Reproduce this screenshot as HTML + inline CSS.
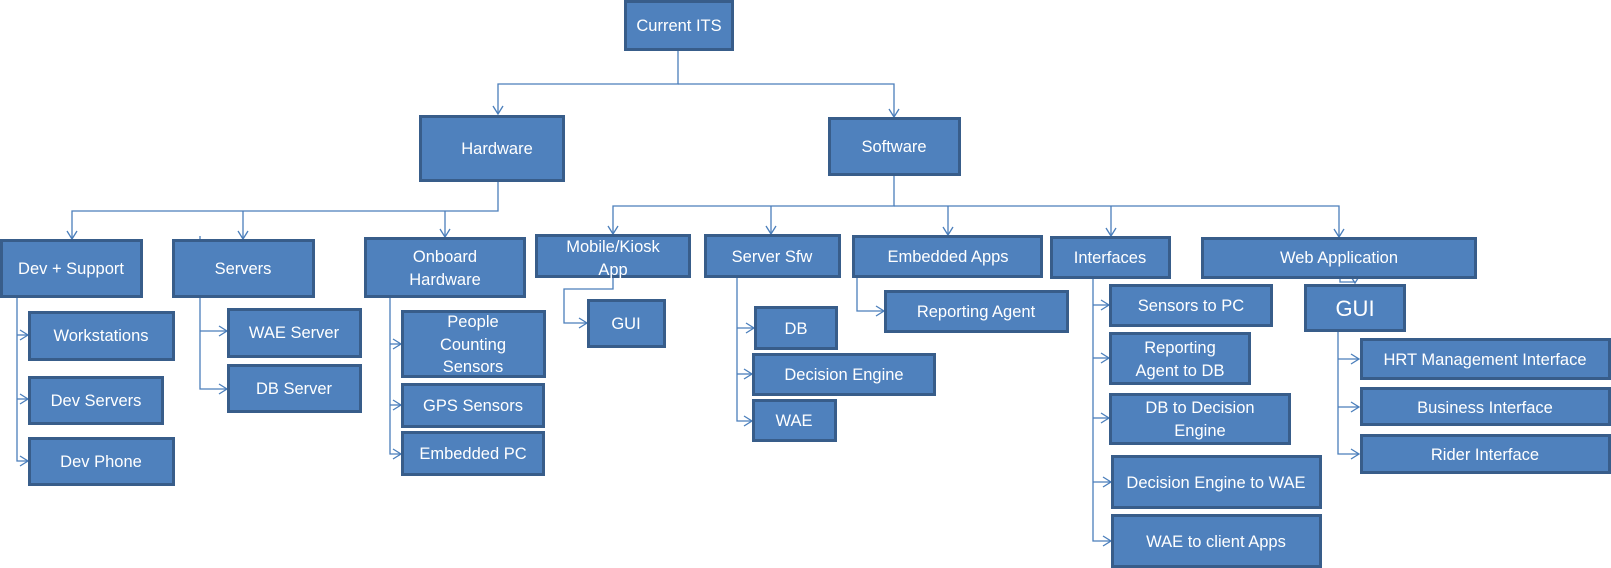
<!DOCTYPE html>
<html><head><meta charset="utf-8"><style>
html,body{margin:0;padding:0;background:#fff;}
svg{display:block;}
text{font-family:"Liberation Sans",sans-serif;font-size:16.5px;fill:#fff;text-anchor:middle;}
.b{fill:#4f81bd;stroke:#385d8a;stroke-width:3;}
.l{fill:none;stroke:#4a7ebb;stroke-width:1.3;}
</style></head><body>
<svg width="1611" height="568" viewBox="0 0 1611 568" xmlns="http://www.w3.org/2000/svg">
<defs>
<marker id="a" markerUnits="userSpaceOnUse" markerWidth="12" markerHeight="12" refX="9" refY="6" orient="auto">
<path d="M1,1 L9,6 L1,11" fill="none" stroke="#4a7ebb" stroke-width="1.3"/>
</marker>
</defs>
<!-- connectors -->
<path class="l" d="M678,50 V84 H498 V114" marker-end="url(#a)"/>
<path class="l" d="M678,84 H894 V117" marker-end="url(#a)"/>
<path class="l" d="M498,181 V211 H72 V239" marker-end="url(#a)"/>
<path class="l" d="M243,211 V239" marker-end="url(#a)"/>
<path class="l" d="M445,211 V237" marker-end="url(#a)"/>
<path class="l" d="M894,175 V206 H613 V234" marker-end="url(#a)"/>
<path class="l" d="M771,206 V234" marker-end="url(#a)"/>
<path class="l" d="M948,206 V235" marker-end="url(#a)"/>
<path class="l" d="M1111,206 V236" marker-end="url(#a)"/>
<path class="l" d="M894,206 H1339 V237" marker-end="url(#a)"/>
<path class="l" d="M17,297 V461 H28" marker-end="url(#a)"/>
<path class="l" d="M17,335 H28" marker-end="url(#a)"/>
<path class="l" d="M17,399 H28" marker-end="url(#a)"/>
<path class="l" d="M200,236 V389 H227" marker-end="url(#a)"/>
<path class="l" d="M200,331 H227" marker-end="url(#a)"/>
<path class="l" d="M390,297 V454 H401" marker-end="url(#a)"/>
<path class="l" d="M390,344 H401" marker-end="url(#a)"/>
<path class="l" d="M390,405 H401" marker-end="url(#a)"/>
<path class="l" d="M613,277 V289 H564 V323 H587" marker-end="url(#a)"/>
<path class="l" d="M737,277 V421 H752" marker-end="url(#a)"/>
<path class="l" d="M737,328 H754" marker-end="url(#a)"/>
<path class="l" d="M737,374 H752" marker-end="url(#a)"/>
<path class="l" d="M857,277 V311 H884" marker-end="url(#a)"/>
<path class="l" d="M1093,278 V541 H1111" marker-end="url(#a)"/>
<path class="l" d="M1093,305 H1109" marker-end="url(#a)"/>
<path class="l" d="M1093,358 H1109" marker-end="url(#a)"/>
<path class="l" d="M1093,418 H1109" marker-end="url(#a)"/>
<path class="l" d="M1093,482 H1111" marker-end="url(#a)"/>
<path class="l" d="M1340,278 V282 H1355 V283" marker-end="url(#a)"/>
<path class="l" d="M1338,331 V454 H1359" marker-end="url(#a)"/>
<path class="l" d="M1338,359 H1359" marker-end="url(#a)"/>
<path class="l" d="M1338,407 H1359" marker-end="url(#a)"/>
<!-- boxes -->
<rect class="b" x="625.5" y="1.5" width="107" height="48"/><text x="679" y="31">Current ITS</text>
<rect class="b" x="420.5" y="116.5" width="143" height="64"/><text x="497" y="154">Hardware</text>
<rect class="b" x="829.5" y="118.5" width="130" height="56"/><text x="894" y="152">Software</text>
<rect class="b" x="1.5" y="240.5" width="140" height="56"/><text x="71" y="274">Dev + Support</text>
<rect class="b" x="173.5" y="240.5" width="140" height="56"/><text x="243" y="274">Servers</text>
<rect class="b" x="365.5" y="238.5" width="159" height="58"/><text x="445" y="262">Onboard</text><text x="445" y="285">Hardware</text>
<rect class="b" x="536.5" y="235.5" width="153" height="41"/><text x="613" y="252">Mobile/Kiosk</text><text x="613" y="275">App</text>
<rect class="b" x="705.5" y="235.5" width="134" height="41"/><text x="772" y="262">Server Sfw</text>
<rect class="b" x="853.5" y="236.5" width="188" height="40"/><text x="948" y="262">Embedded Apps</text>
<rect class="b" x="1051.5" y="237.5" width="118" height="40"/><text x="1110" y="263">Interfaces</text>
<rect class="b" x="1202.5" y="238.5" width="273" height="39"/><text x="1339" y="263">Web Application</text>
<rect class="b" x="29.5" y="312.5" width="144" height="47"/><text x="101" y="341">Workstations</text>
<rect class="b" x="29.5" y="377.5" width="133" height="46"/><text x="96" y="406">Dev Servers</text>
<rect class="b" x="29.5" y="438.5" width="144" height="46"/><text x="101" y="467">Dev Phone</text>
<rect class="b" x="228.5" y="309.5" width="132" height="47"/><text x="294" y="338">WAE Server</text>
<rect class="b" x="228.5" y="365.5" width="132" height="46"/><text x="294" y="394">DB Server</text>
<rect class="b" x="402.5" y="311.5" width="142" height="65"/><text x="473" y="327">People</text><text x="473" y="350">Counting</text><text x="473" y="372">Sensors</text>
<rect class="b" x="402.5" y="384.5" width="141" height="42"/><text x="473" y="411">GPS Sensors</text>
<rect class="b" x="402.5" y="432.5" width="141" height="42"/><text x="473" y="459">Embedded PC</text>
<rect class="b" x="588.5" y="300.5" width="76" height="46"/><text x="626" y="329">GUI</text>
<rect class="b" x="755.5" y="307.5" width="81" height="41"/><text x="796" y="334">DB</text>
<rect class="b" x="753.5" y="354.5" width="181" height="40"/><text x="844" y="380">Decision Engine</text>
<rect class="b" x="753.5" y="400.5" width="82" height="40"/><text x="794" y="426">WAE</text>
<rect class="b" x="885.5" y="291.5" width="182" height="40"/><text x="976" y="317">Reporting Agent</text>
<rect class="b" x="1110.5" y="285.5" width="161" height="40"/><text x="1191" y="311">Sensors to PC</text>
<rect class="b" x="1110.5" y="333.5" width="139" height="50"/><text x="1180" y="353">Reporting</text><text x="1180" y="376">Agent to DB</text>
<rect class="b" x="1110.5" y="394.5" width="179" height="49"/><text x="1200" y="413">DB to Decision</text><text x="1200" y="436">Engine</text>
<rect class="b" x="1112.5" y="456.5" width="208" height="51"/><text x="1216" y="488">Decision Engine to WAE</text>
<rect class="b" x="1112.5" y="515.5" width="208" height="51"/><text x="1216" y="547">WAE to client Apps</text>
<rect class="b" x="1305.5" y="285.5" width="99" height="45"/><text x="1355" y="316" style="font-size:22px">GUI</text>
<rect class="b" x="1361.5" y="339.5" width="248" height="39"/><text x="1485" y="365">HRT Management Interface</text>
<rect class="b" x="1361.5" y="388.5" width="248" height="36"/><text x="1485" y="413">Business Interface</text>
<rect class="b" x="1361.5" y="435.5" width="248" height="37"/><text x="1485" y="460">Rider Interface</text>
</svg>
</body></html>
